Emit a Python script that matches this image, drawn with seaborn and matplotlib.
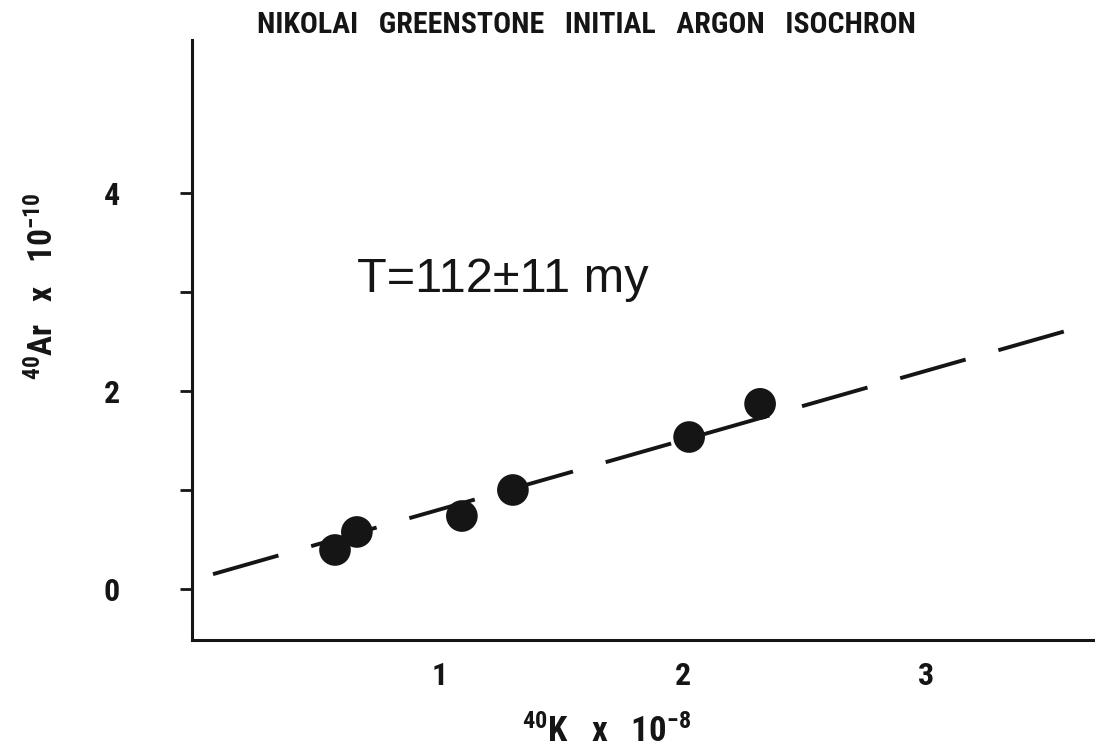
import matplotlib
matplotlib.use("Agg")
import matplotlib.pyplot as plt
from matplotlib import font_manager
import seaborn as sns
import pandas as pd

# ---- data ----
k40 = [0.568, 0.658, 1.09, 1.30, 2.025, 2.317]      # 40K x 10^-8
ar40 = [0.394, 0.576, 0.737, 1.00, 1.535, 1.87]      # 40Ar x 10^-10
fit_x = [0.066, 3.695]
fit_y = [0.15, 2.69]
x_ticks = [1, 2, 3]
y_ticks_major = [0, 2, 4]
y_ticks_all = [0, 1, 2, 3, 4]
title = "NIKOLAI   GREENSTONE   INITIAL   ARGON   ISOCHRON"
annotation = "T=112\u00b111 my"
x_label = r"$^{40}$K   x   10$^{-8}$"
y_label = r"$^{40}$Ar   x   10$^{-10}$"

sns.set_theme(style="white")


def pick_font(cands):
    for fam in cands:
        try:
            font_manager.findfont(font_manager.FontProperties(family=fam),
                                  fallback_to_default=False)
            return fam
        except Exception:
            continue
    return "DejaVu Sans"


narrow = pick_font(["Liberation Sans Narrow", "Roboto Condensed", "DejaVu Sans"])
plain = pick_font(["Liberation Sans", "DejaVu Sans"])

plt.rcParams["font.family"] = [narrow, "DejaVu Sans"]
plt.rcParams["mathtext.fontset"] = "custom"
plt.rcParams["mathtext.rm"] = f"{narrow}:bold"
plt.rcParams["mathtext.it"] = f"{narrow}:bold"
plt.rcParams["mathtext.bf"] = f"{narrow}:bold"
plt.rcParams["lines.scale_dashes"] = False

ink = "#151515"
fig = plt.figure(figsize=(10.95, 7.54), dpi=100)
ax = fig.add_axes([0.1753, 0.1512, 0.8247, 0.7958])

df = pd.DataFrame({"k40": k40, "ar40": ar40})
fit = pd.DataFrame({"x": fit_x, "y": fit_y})

sns.lineplot(data=fit, x="x", y="y", ax=ax, color=ink, linewidth=2.8,
             linestyle=(0, (49, 24.5)), solid_capstyle="butt")
sns.scatterplot(data=df, x="k40", y="ar40", ax=ax, color=ink, s=520,
                edgecolor="none", zorder=3)

ax.set_xlim(-0.0206, 3.695)
ax.set_ylim(-0.515, 5.545)

for side in ["top", "right"]:
    ax.spines[side].set_visible(False)
for side in ["left", "bottom"]:
    ax.spines[side].set_linewidth(2.2)
    ax.spines[side].set_color(ink)

ax.set_xticks(x_ticks)
ax.set_xticklabels([str(v) for v in x_ticks])
ax.set_yticks(y_ticks_all)
ax.set_yticklabels([str(v) if v in y_ticks_major else "" for v in y_ticks_all])

ax.tick_params(axis="x", direction="in", length=8, width=2, color=ink,
               pad=15, labelsize=23, labelcolor=ink)
ax.tick_params(axis="y", direction="out", length=9, width=2, color=ink,
               pad=43, labelsize=23, labelcolor=ink, left=True)
for lab in ax.get_xticklabels() + ax.get_yticklabels():
    lab.set_fontweight("bold")

ax.set_xlabel(x_label, fontsize=25, fontweight="bold", color=ink)
ax.set_ylabel(y_label, fontsize=24, fontweight="bold", color=ink)
ax.xaxis.set_label_coords(0.459, -0.124)
ax.yaxis.set_label_coords(-0.146, 0.59)

fig.text(586 / 1095, 1 - 25 / 754, title, ha="center", va="center",
         fontsize=21.5, fontweight="bold", color=ink)

ax.text(0.658, 3.0, annotation, ha="left", va="baseline", fontsize=35,
        family=plain, color=ink)

fig.savefig("out.png", dpi=100)
